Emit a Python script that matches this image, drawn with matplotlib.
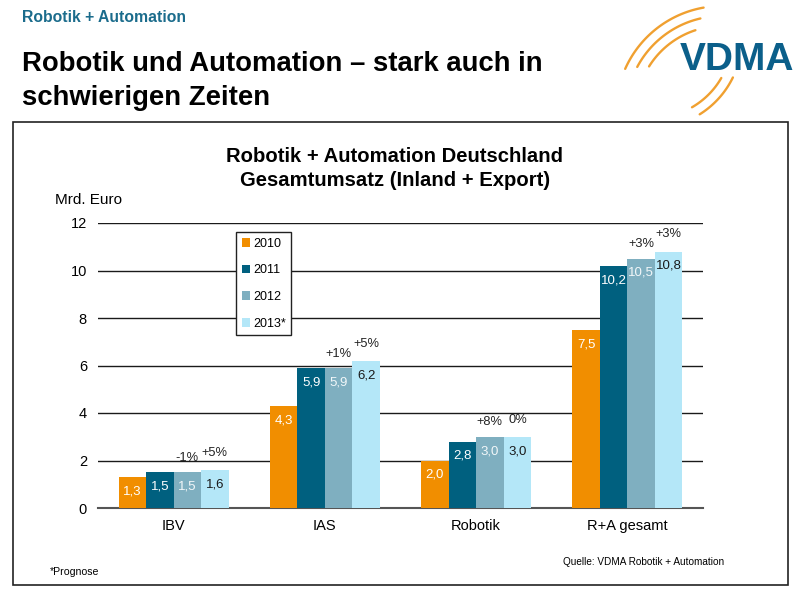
import numpy as np
import matplotlib
matplotlib.use("Agg")
import matplotlib.pyplot as plt
from matplotlib.patches import Rectangle

plt.rcParams['font.family'] = ['Liberation Sans', 'DejaVu Sans']

#### DATA ####
categories = ['IBV', 'IAS', 'Robotik', 'R+A gesamt']
years = ['2010', '2011', '2012', '2013*']
v2010 = [1.3, 4.3, 2.0, 7.5]
v2011 = [1.5, 5.9, 2.8, 10.2]
v2012 = [1.5, 5.9, 3.0, 10.5]
v2013 = [1.6, 6.2, 3.0, 10.8]
change2012 = ['-1%', '+1%', '+8%', '+3%']
change2013 = ['+5%', '+5%', '0%', '+3%']
yticks = [0, 2, 4, 6, 8, 10, 12]

#### STYLE ####
bar_colors = ['#F18E00', '#00607F', '#7FAFC0', '#B4E7F8']
label_colors = ['white', 'white', '#F2F7F9', '#1A1A1A']
teal = '#1B6C8C'
orange = '#F0A030'

fig = plt.figure(figsize=(8, 5.93), dpi=100)

# overlay in pixel coordinates for frame and logo
deco = fig.add_axes([0, 0, 1, 1])
deco.set_xlim(0, 800)
deco.set_ylim(593, 0)
deco.axis('off')
deco.add_patch(Rectangle((13, 122), 775, 463, fill=False, edgecolor='#222222', lw=1.2))

# logo arcs
for r, a0, a1 in [(86, 108, 148), (96, 103, 152), (106, 100, 156)]:
    t = np.radians(np.linspace(a0, a1, 60))
    deco.plot(722 + r * np.cos(t), 112 - r * np.sin(t), color=orange, lw=1.7, solid_capstyle='round')
for r, a0, a1 in [(80, -60, -30), (90, -58, -26)]:
    t = np.radians(np.linspace(a0, a1, 40))
    deco.plot(652 + r * np.cos(t), 38 - r * np.sin(t), color=orange, lw=1.7, solid_capstyle='round')
deco.text(737, 60, 'VDMA', color='#0B5F8A', fontsize=28, fontweight='bold',
          ha='center', va='center')

# header texts
fig.text(22 / 800, 1 - 18 / 593, 'Robotik + Automation', color=teal, fontsize=11.3,
         fontweight='bold', va='center')
fig.text(22 / 800, 1 - 64 / 593, 'Robotik und Automation \u2013 stark auch in',
         fontsize=19.8, fontweight='bold', va='center')
fig.text(22 / 800, 1 - 98 / 593, 'schwierigen Zeiten', fontsize=19.8, fontweight='bold', va='center')

fig.text(395 / 800, 1 - 156 / 593, 'Robotik + Automation Deutschland', fontsize=14.6,
         fontweight='bold', ha='center', va='center')
fig.text(395 / 800, 1 - 180 / 593, 'Gesamtumsatz (Inland + Export)', fontsize=14.6,
         fontweight='bold', ha='center', va='center')
fig.text(55 / 800, 1 - 200 / 593, 'Mrd. Euro', fontsize=11, va='center')

fig.text(50 / 800, 1 - 572 / 593, '*Prognose', fontsize=7.6, va='center')
fig.text(724 / 800, 1 - 562 / 593, 'Quelle: VDMA Robotik + Automation', fontsize=7.2,
         ha='right', va='center')

#### CHART ####
ax = fig.add_axes([98 / 800, 1 - 508 / 593, 605 / 800, 285 / 593])
x = np.arange(len(categories))
w = 0.182
series = [v2010, v2011, v2012, v2013]

for i, vals in enumerate(series):
    pos = x + (i - 1.5) * w
    ax.bar(pos, vals, width=w, color=bar_colors[i], label=years[i], zorder=3)
    for p, v in zip(pos, vals):
        ax.annotate(('%.1f' % v).replace('.', ','), (p, v), xytext=(0, -6),
                    textcoords='offset points', ha='center', va='top',
                    fontsize=9.5, color=label_colors[i], zorder=4)

for i, (ch, vals) in enumerate([(change2012, v2012), (change2013, v2013)]):
    pos = x + (i + 0.5) * w
    for p, v, c in zip(pos, vals, ch):
        ax.annotate(c, (p, v), xytext=(0, 6 + 2 * i), textcoords='offset points',
                    ha='center', va='bottom', fontsize=9.3, color='#222222', zorder=4)

ax.set_xlim(-0.5, 3.5)
ax.set_ylim(0, 12)
ax.set_yticks(yticks)
ax.set_xticks(x)
ax.set_xticklabels(categories)
ax.tick_params(axis='both', length=0, labelsize=10.5)
ax.tick_params(axis='y', pad=8)
ax.tick_params(axis='x', pad=8)
ax.yaxis.grid(True, color='#1A1A1A', lw=1, zorder=0)
for s in ['top', 'right', 'left']:
    ax.spines[s].set_visible(False)
ax.spines['bottom'].set_color('#555555')
ax.spines['bottom'].set_linewidth(1.5)
ax.set_facecolor('none')

leg = ax.legend(loc='upper left', bbox_to_anchor=(0.228, 0.968), fontsize=9,
                frameon=True, fancybox=False, framealpha=1, edgecolor='#222222',
                handlelength=0.7, handleheight=0.7, handletextpad=0.2,
                labelspacing=1.17, borderpad=0.45, borderaxespad=0)
leg.get_frame().set_linewidth(1)
leg.set_zorder(5)

fig.savefig('out.png', dpi=100)
